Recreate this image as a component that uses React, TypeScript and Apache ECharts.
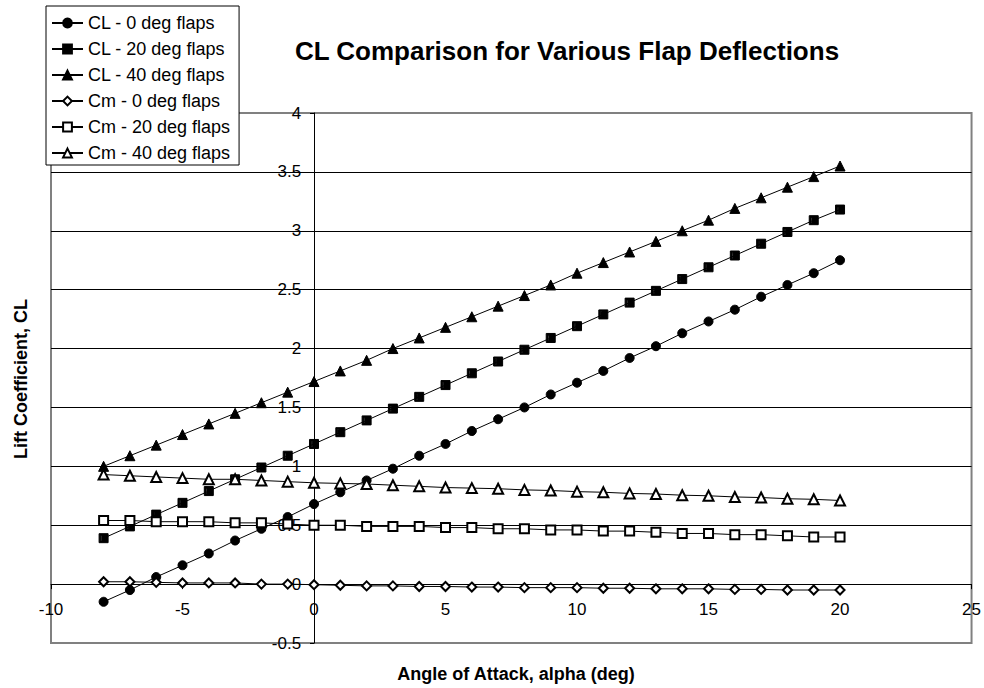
import React, { useEffect, useRef } from 'react';
import * as echarts from 'echarts';

// Angle of attack (deg)
const alpha = [-8, -7, -6, -5, -4, -3, -2, -1, 0, 1, 2, 3, 4, 5, 6, 7, 8, 9, 10, 11, 12, 13, 14, 15, 16, 17, 18, 19, 20];

const clFlap0 = [-0.15, -0.05, 0.06, 0.16, 0.26, 0.37, 0.47, 0.57, 0.68, 0.78, 0.88, 0.98, 1.09, 1.19, 1.30, 1.40, 1.50, 1.61, 1.71, 1.81, 1.92, 2.02, 2.13, 2.23, 2.33, 2.44, 2.54, 2.64, 2.75];
const clFlap20 = [0.39, 0.49, 0.59, 0.69, 0.79, 0.89, 0.99, 1.09, 1.19, 1.29, 1.39, 1.49, 1.59, 1.69, 1.79, 1.89, 1.99, 2.09, 2.19, 2.29, 2.39, 2.49, 2.59, 2.69, 2.79, 2.89, 2.99, 3.09, 3.18];
const clFlap40 = [1.00, 1.09, 1.18, 1.27, 1.36, 1.45, 1.54, 1.63, 1.72, 1.81, 1.90, 2.00, 2.09, 2.18, 2.27, 2.36, 2.45, 2.54, 2.64, 2.73, 2.82, 2.91, 3.00, 3.09, 3.19, 3.28, 3.37, 3.46, 3.55];
const cmFlap0 = [0.02, 0.02, 0.015, 0.01, 0.01, 0.01, 0.0, 0.0, -0.005, -0.01, -0.015, -0.015, -0.02, -0.02, -0.025, -0.025, -0.03, -0.03, -0.03, -0.035, -0.035, -0.04, -0.04, -0.04, -0.045, -0.045, -0.05, -0.05, -0.05];
const cmFlap20 = [0.54, 0.54, 0.53, 0.53, 0.53, 0.52, 0.52, 0.51, 0.50, 0.50, 0.49, 0.49, 0.49, 0.48, 0.48, 0.47, 0.47, 0.46, 0.46, 0.45, 0.45, 0.44, 0.43, 0.43, 0.42, 0.42, 0.41, 0.40, 0.40];
const cmFlap40 = [0.93, 0.92, 0.91, 0.90, 0.89, 0.89, 0.88, 0.87, 0.86, 0.855, 0.85, 0.84, 0.83, 0.82, 0.815, 0.81, 0.80, 0.795, 0.785, 0.78, 0.77, 0.765, 0.755, 0.75, 0.74, 0.735, 0.725, 0.72, 0.71];

const seriesNames = [
  'CL - 0 deg flaps',
  'CL - 20 deg flaps',
  'CL - 40 deg flaps',
  'Cm - 0 deg flaps',
  'Cm - 20 deg flaps',
  'Cm - 40 deg flaps',
];
const seriesValues = [clFlap0, clFlap20, clFlap40, cmFlap0, cmFlap20, cmFlap40];

const titleText = 'CL Comparison for Various Flap Deflections';
const xAxisTitle = 'Angle of Attack, alpha (deg)';
const yAxisTitle = 'Lift Coefficient, CL';

const X_MIN = -10;
const X_MAX = 25;
const Y_MIN = -0.5;
const Y_MAX = 4;

const FONT = '"Liberation Sans", Arial, Helvetica, sans-serif';

const halfFilledSquare = 'path://M0,0 L10,0 L10,10 L0,10 Z M2,2 L2,8 L3,8 L3,2 Z';
const symbols = ['circle', halfFilledSquare, 'triangle', 'emptyDiamond', 'emptyRect', 'emptyTriangle'];
const symbolSizes = [9, 9, 10, 9, 9, 10];

const GRID = { left: 51, right: 12, top: 113, bottom: 45 };
const W = 984;
const H = 688;

export default function App() {
  const ref = useRef<HTMLDivElement>(null);

  useEffect(() => {
    if (!ref.current) return;
    const chart = echarts.init(ref.current, null, { renderer: 'svg' });

    // Axis labels stay at the grid edge when the axis line is "onZero";
    // shift them back to the zero lines (Excel-style crossing axes).
    const plotW = W - GRID.left - GRID.right;
    const plotH = H - GRID.top - GRID.bottom;
    const zeroYOffset = plotH * (0 - Y_MIN) / (Y_MAX - Y_MIN); // bottom edge -> y=0
    const zeroXOffset = plotW * (0 - X_MIN) / (X_MAX - X_MIN); // left edge -> x=0

    const series = seriesNames.map((name, i) => ({
      name,
      type: 'line',
      data: alpha.map((a, j) => [a, seriesValues[i][j]]),
      symbol: symbols[i],
      symbolSize: symbolSizes[i],
      showAllSymbol: true,
      lineStyle: { color: '#000', width: 1 },
      itemStyle: { color: '#000', borderColor: '#000', borderWidth: 1 },
      emphasis: { disabled: true },
      z: 3,
    }));

    chart.setOption({
      animation: false,
      backgroundColor: '#fff',
      textStyle: { fontFamily: FONT },
      grid: {
        ...GRID,
        show: true,
        borderColor: '#808080',
        borderWidth: 2,
        backgroundColor: 'transparent',
        containLabel: false,
      },
      legend: {
        left: 46,
        top: 6,
        orient: 'vertical',
        data: seriesNames,
        itemWidth: 31,
        itemHeight: 11,
        itemGap: 8,
        padding: [8, 9, 3, 5],
        backgroundColor: '#fff',
        borderColor: '#000',
        borderWidth: 1,
        borderRadius: 0,
        selectedMode: false,
        textStyle: { fontFamily: FONT, fontSize: 18, lineHeight: 18, color: '#000' },
      },
      xAxis: {
        type: 'value',
        min: X_MIN,
        max: X_MAX,
        interval: 5,
        axisLine: { onZero: true, lineStyle: { color: '#000', width: 1 } },
        axisTick: { show: true, length: 5, lineStyle: { color: '#000' } },
        axisLabel: { color: '#000', fontSize: 17, fontFamily: FONT, margin: 17 - zeroYOffset },
        splitLine: { show: false },
      },
      yAxis: {
        type: 'value',
        min: Y_MIN,
        max: Y_MAX,
        interval: 0.5,
        axisLine: { onZero: true, lineStyle: { color: '#000', width: 1 } },
        axisTick: { show: true, length: 4, lineStyle: { color: '#000' } },
        axisLabel: { color: '#000', fontSize: 17, fontFamily: FONT, margin: 13 - zeroXOffset },
        splitLine: {
          show: true,
          showMinLine: false,
          showMaxLine: false,
          lineStyle: { color: '#000', width: 1 },
        },
      },
      graphic: [
        {
          type: 'text',
          x: 567,
          y: 51,
          style: {
            text: titleText,
            fontFamily: FONT,
            fontSize: 26,
            fontWeight: 'bold',
            fill: '#000',
            textAlign: 'center',
            textVerticalAlign: 'middle',
          },
        },
        {
          type: 'text',
          x: 516,
          y: 674,
          style: {
            text: xAxisTitle,
            fontFamily: FONT,
            fontSize: 18,
            fontWeight: 'bold',
            fill: '#000',
            textAlign: 'center',
            textVerticalAlign: 'middle',
          },
        },
        {
          type: 'text',
          x: 21,
          y: 379,
          rotation: Math.PI / 2,
          style: {
            text: yAxisTitle,
            fontFamily: FONT,
            fontSize: 18,
            fontWeight: 'bold',
            fill: '#000',
            textAlign: 'center',
            textVerticalAlign: 'middle',
          },
        },
      ],
      series,
    });

    return () => chart.dispose();
  }, []);

  return (
    <div
      ref={ref}
      style={{ position: 'fixed', left: 0, top: 0, width: W, height: H, background: '#fff' }}
    />
  );
}
